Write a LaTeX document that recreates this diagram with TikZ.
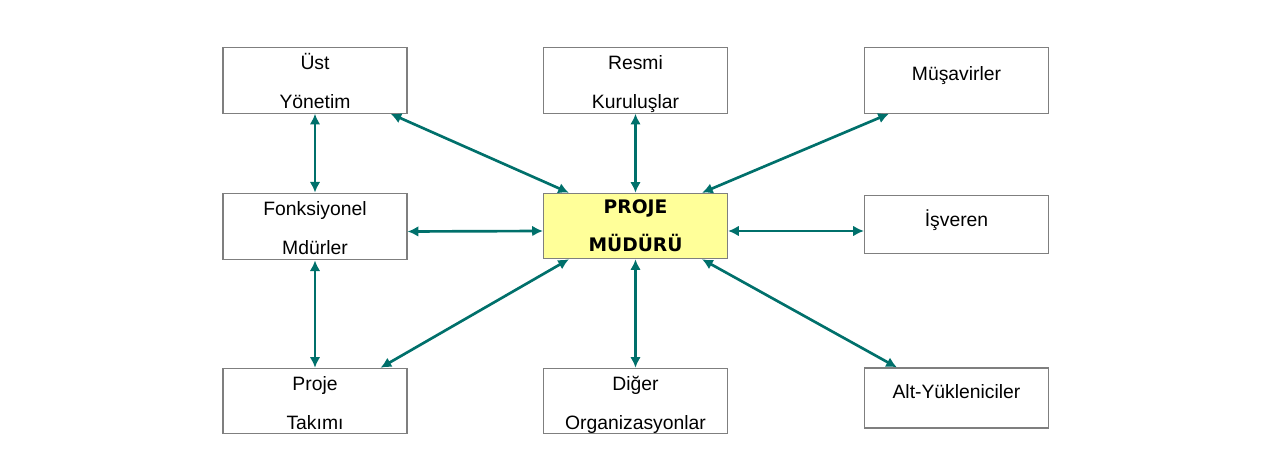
\documentclass[tikz,border=0pt]{standalone}
\usepackage{fontspec}
\setmainfont{Liberation Sans}
\newfontfamily\boldfam{DejaVu Sans}
\usepackage{tikz}
\usetikzlibrary{arrows.meta}
\definecolor{linkteal}{HTML}{00706B}
\definecolor{boxgray}{HTML}{7F7F7F}
\definecolor{pmyellow}{HTML}{FFFF99}
\newcommand{\topstrut}{\rule{0pt}{16pt}}

\begin{document}
\begin{tikzpicture}[x=0.75pt,y=-0.75pt,
  unit/.style={draw=boxgray,line width=0.9pt,fill=white,minimum width=138pt,
    minimum height=49pt,inner sep=0pt,align=center,
    font=\fontsize{14.5}{29.25}\selectfont},
  single/.style={draw=boxgray,line width=0.9pt,fill=white,minimum width=138pt,
    inner sep=0pt,text depth=10pt,font=\fontsize{14.5}{17}\selectfont},
  link/.style={draw=linkteal,line width=2pt,{Latex[length=8pt,width=8pt]}-{Latex[length=8pt,width=8pt]}}]
  \useasboundingbox (0,0) rectangle (1283,470);
  % boxes
  \node[unit] (ust) at (315,80.5) {\topstrut Üst\\Yönetim\vphantom{g}};
  \node[unit] (resmi) at (635.5,80.5) {\topstrut Resmi\\Kuruluşlar};
  \node[single,minimum height=49pt] (musavir) at (956.5,80.5) {Müşavirler};
  \node[unit,minimum height=50pt] (fonk) at (315,226.5) {\topstrut Fonksiyonel\\Mdürler\vphantom{g}};
  \node[unit,fill=pmyellow,font=\boldfam\bfseries\fontsize{14}{28.5}\selectfont] (pm) at (635.5,226) {PROJE\\MÜDÜRÜ};
  \node[single,minimum height=44pt] (isveren) at (956.5,224.5) {İşveren};
  \node[unit] (takim) at (315,401) {\topstrut Proje\\Takımı\vphantom{g}};
  \node[unit] (diger) at (635.5,401) {\topstrut Diğer\\Organizasyonlar};
  \node[single,minimum height=45pt] (alt) at (956.5,398) {Alt-Yükleniciler};
  % connectors
  \draw[link] (ust) -- (fonk);
  \draw[link] (fonk) -- (takim);
  \draw[link] (resmi) -- (pm);
  \draw[link] (pm) -- (diger);
  \draw[link] ([yshift=-3.75pt]fonk.east) -- ([yshift=-3.75pt]pm.west);
  \draw[link] ([yshift=-3.75pt]pm.east) -- ([yshift=-3.75pt]pm.east -| isveren.west);
  \draw[link] ([xshift=-12.75pt]ust.south east) -- ([xshift=19.5pt]pm.north west);
  \draw[link] ([xshift=-19.5pt]pm.north east) -- ([xshift=18.75pt]musavir.south west);
  \draw[link] ([xshift=19.5pt]pm.south west) -- ([xshift=-20.25pt]takim.north east);
  \draw[link] ([xshift=-19.5pt]pm.south east) -- ([xshift=24.75pt]alt.north west);
\end{tikzpicture}
\end{document}
